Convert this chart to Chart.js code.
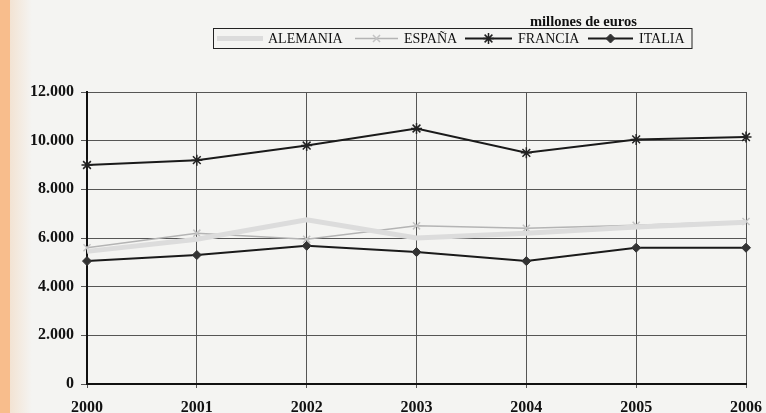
<!DOCTYPE html>
<html><head><meta charset="utf-8">
<script src="https://cdn.jsdelivr.net/npm/chart.js@4.4.1/dist/chart.umd.min.js"></script>
<style>html,body{margin:0;padding:0;background:#f4f4f2}#wrap{width:766px;height:413px}</style>
</head><body><div id="wrap"><canvas id="c" width="766" height="413"></canvas></div>
<script>
const years = ['2000','2001','2002','2003','2004','2005','2006'];
const alemania = [5450, 5950, 6750, 6000, 6200, 6450, 6650];
const espana   = [5600, 6200, 5950, 6500, 6400, 6520, 6680];
const francia  = [9000, 9200, 9800, 10500, 9500, 10050, 10150];
const italia   = [5050, 5300, 5680, 5420, 5050, 5600, 5600];
const yTicks = [0, 2000, 4000, 6000, 8000, 10000, 12000];
const unitTitle = 'millones de euros';

const serif = '"Liberation Serif", "DejaVu Serif", serif';

const bgPlugin = {
  id: 'bg',
  beforeDraw(chart) {
    const ctx = chart.ctx;
    ctx.save();
    ctx.fillStyle = '#f4f4f2';
    ctx.fillRect(0, 0, chart.width, chart.height);
    ctx.fillStyle = '#f8bd8c';
    ctx.fillRect(0, 0, 10, chart.height);
    const g = ctx.createLinearGradient(10, 0, 32, 0);
    g.addColorStop(0, '#f3e3d3');
    g.addColorStop(1, '#f4f4f2');
    ctx.fillStyle = g;
    ctx.fillRect(10, 0, 22, chart.height);
    ctx.restore();
  }
};

const legendPlugin = {
  id: 'customLegend',
  afterDraw(chart) {
    const ctx = chart.ctx;
    const ds = chart.data.datasets;
    ctx.save();
    ctx.font = 'bold 14.5px ' + serif;
    ctx.fillStyle = '#111';
    ctx.textBaseline = 'middle';
    ctx.textAlign = 'left';
    ctx.fillText(unitTitle, 530, 22);
    ctx.strokeStyle = '#222';
    ctx.lineWidth = 1;
    ctx.strokeRect(213.5, 28.5, 478.5, 20);
    ctx.font = '14px ' + serif;
    const items = [
      {ds: 0, lx: 217, lw: 46, tx: 268},
      {ds: 1, lx: 355, lw: 43, tx: 404},
      {ds: 2, lx: 465, lw: 47, tx: 518},
      {ds: 3, lx: 588, lw: 45, tx: 639}
    ];
    const y = 38.5;
    items.forEach(it => {
      const d = ds[it.ds];
      ctx.strokeStyle = d.borderColor;
      ctx.lineWidth = d.borderWidth;
      ctx.beginPath();
      ctx.moveTo(it.lx, y);
      ctx.lineTo(it.lx + it.lw, y);
      ctx.stroke();
      if (d.pointRadius > 0) {
        ctx.strokeStyle = d.pointBorderColor;
        ctx.fillStyle = d.pointBackgroundColor;
        ctx.lineWidth = d.pointBorderWidth;
        Chart.helpers.drawPoint(ctx, {pointStyle: d.pointStyle, radius: d.pointRadius, borderWidth: d.pointBorderWidth, rotation: 0}, it.lx + it.lw / 2, y);
      }
      ctx.fillStyle = '#111';
      ctx.fillText(d.label, it.tx, y + 1);
    });
    ctx.restore();
  }
};

new Chart(document.getElementById('c'), {
  type: 'line',
  data: {
    labels: years,
    datasets: [
      {label: 'ALEMANIA', data: alemania, borderColor: '#dcdcdc', borderWidth: 5, pointRadius: 0, pointHoverRadius: 0, tension: 0, pointStyle: 'circle'},
      {label: 'ESPAÑA', data: espana, borderColor: '#b4b4b4', borderWidth: 1.5, pointStyle: 'crossRot', pointRadius: 5, pointBorderColor: '#c4c4c4', pointBackgroundColor: '#c4c4c4', pointBorderWidth: 1.5, tension: 0},
      {label: 'FRANCIA', data: francia, borderColor: '#1a1a1a', borderWidth: 2, pointStyle: 'star', pointRadius: 5.5, pointBorderColor: '#222', pointBackgroundColor: '#222', pointBorderWidth: 1.5, tension: 0},
      {label: 'ITALIA', data: italia, borderColor: '#1a1a1a', borderWidth: 2, pointStyle: 'rectRot', pointRadius: 4.5, pointBorderColor: '#333', pointBackgroundColor: '#333', pointBorderWidth: 1, tension: 0}
    ]
  },
  options: {
    responsive: false,
    animation: false,
    events: [],
    layout: {padding: {top: 92, right: 20, left: 0, bottom: 0}},
    plugins: {legend: {display: false}, title: {display: false}, tooltip: {enabled: false}},
    scales: {
      x: {
        offset: false,
        grid: {color: '#555', lineWidth: 1, drawTicks: true, tickLength: 4},
        border: {color: '#111', width: 2},
        ticks: {color: '#111', font: {family: serif, size: 16, weight: 'bold'}, padding: 10, maxRotation: 0, autoSkip: false},
        afterFit(s) { s.height = 29; s.paddingRight = 0; s.paddingLeft = 0; }
      },
      y: {
        min: 0, max: 12000,
        afterBuildTicks(s) { s.ticks = yTicks.map(v => ({value: v})); },
        grid: {color: '#555', lineWidth: 1, drawTicks: true, tickLength: 6},
        border: {color: '#111', width: 2},
        ticks: {color: '#111', font: {family: serif, size: 16, weight: 'bold'}, padding: 7,
          callback: v => v.toLocaleString('de-DE')},
        afterFit(s) { s.width = 87; s.paddingTop = 0; s.paddingBottom = 0; }
      }
    }
  },
  plugins: [bgPlugin, legendPlugin]
});
</script></body></html>
